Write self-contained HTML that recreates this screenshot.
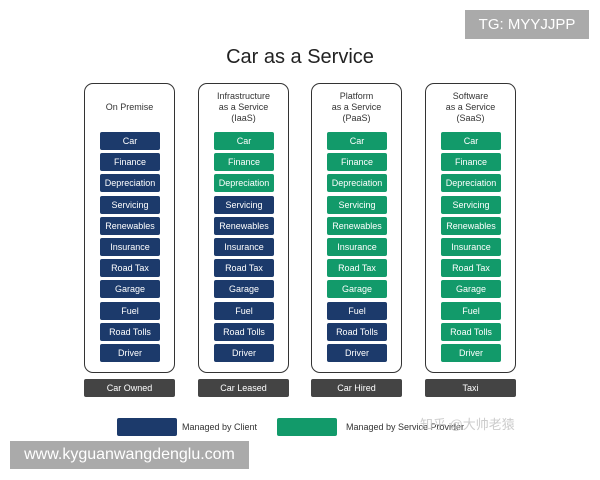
<!DOCTYPE html>
<html><head><style>
body{margin:0;width:600px;height:480px;background:#fff;position:relative;overflow:hidden;font-family:"Liberation Sans",sans-serif}
.a{position:absolute}
.col{position:absolute;top:83px;width:91px;height:290px;border:1.5px solid #333;border-radius:9px;box-sizing:border-box}
.h{position:absolute;top:0;width:91px;text-align:center;font-size:9px;color:#333;line-height:11px}
.c{position:absolute;width:60px;height:18px;line-height:18px;text-align:center;color:#fff;font-size:9px;border-radius:2px}
.b{background:#1c3a6b}.g{background:#129a6a}
.f{position:absolute;top:379px;width:91px;height:18px;line-height:18px;background:#444;color:#fff;font-size:9px;text-align:center;border-radius:2px}
</style></head><body>
<div class="a" style="left:0;width:600px;top:46px;text-align:center;font-size:20px;color:#222">Car as a Service</div>
<div class="a" style="left:465px;top:10px;width:124px;height:29px;background:#aaa;color:#fff;font-size:15px;line-height:29px;text-align:center">TG: MYYJJPP</div>
<div id="d"></div>
<div class="a" style="left:117px;top:418px;width:60px;height:18px;background:#1c3a6b;border-radius:2px"></div>
<div class="a" style="left:182px;top:422px;font-size:9px;color:#333">Managed by Client</div>
<div class="a" style="left:277px;top:418px;width:60px;height:18px;background:#129a6a;border-radius:2px"></div>
<div class="a" style="left:346px;top:422px;font-size:9px;color:#333">Managed by Service Provider</div>
<div class="a" style="left:420px;top:414px;font-size:13px;color:#ccc;font-family:'Liberation Sans','Noto Sans CJK SC',sans-serif">知乎 @大帅老猿</div>
<div class="a" style="left:10px;top:441px;width:239px;height:28px;background:#aaa;color:#fff;font-size:16px;line-height:28px;text-align:center">www.kyguanwangdenglu.com</div>
<script>
var items=["Car","Finance","Depreciation","Servicing","Renewables","Insurance","Road Tax","Garage","Fuel","Road Tolls","Driver"];
var cols=[[84,"<br>On Premise<br>&nbsp;","Car Owned",0],[198,"Infrastructure<br>as a Service<br>(IaaS)","Car Leased",3],[311,"Platform<br>as a Service<br>(PaaS)","Car Hired",8],[425,"Software<br>as a Service<br>(SaaS)","Taxi",11]];
var h="";
cols.forEach(function(c){
h+='<div class="col" style="left:'+c[0]+'px"></div><div class="h" style="left:'+c[0]+'px;top:91px">'+c[1]+'</div>';
items.forEach(function(t,i){h+='<div class="c '+(i<c[3]?'g':'b')+'" style="left:'+(c[0]+16)+'px;top:'+(132+i*21.2)+'px">'+t+'</div>';});
h+='<div class="f" style="left:'+c[0]+'px">'+c[2]+'</div>';
});
document.getElementById("d").innerHTML=h;
</script>
</body></html>
